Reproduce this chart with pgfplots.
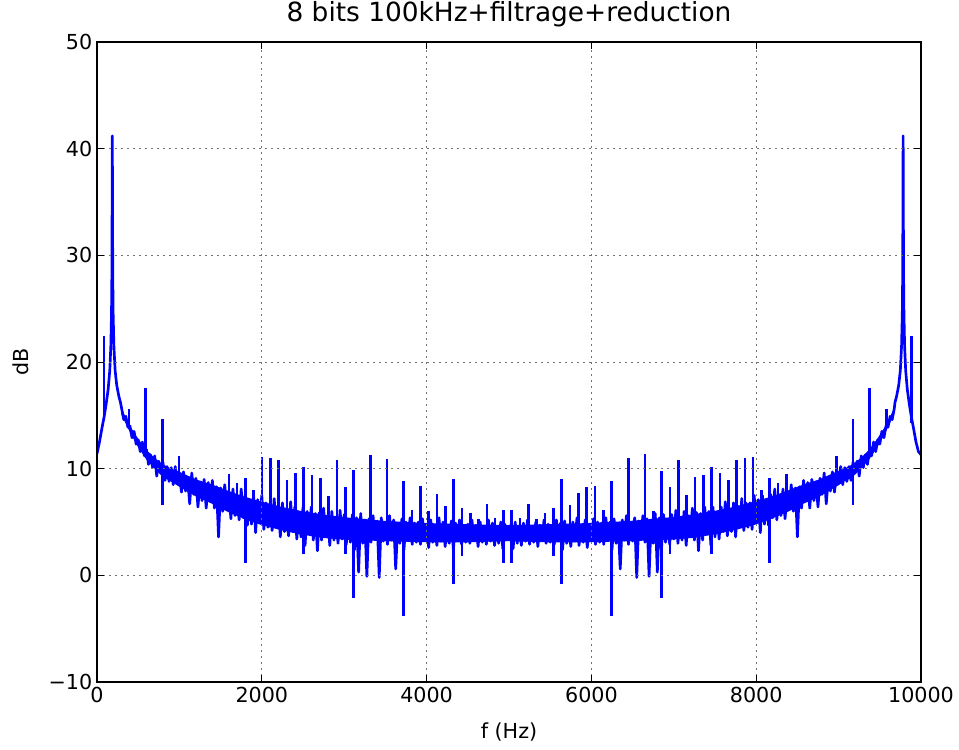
\documentclass[border=0pt]{standalone}
\usepackage{fontspec}
\setmainfont{DejaVu Sans}
\usepackage{pgfplots}
\pgfplotsset{compat=1.18}
\begin{document}
\begin{tikzpicture}
\useasboundingbox (-72.75pt,-50.25pt) rectangle (646.5pt,511.5pt);
\begin{axis}[
  at={(0pt,0pt)}, anchor=south west,
  scale only axis, width=618pt, height=480pt,
  xmin=0, xmax=10000, ymin=-10, ymax=50,
  scaled x ticks=false,
  xtick={0,2000,4000,6000,8000,10000},
  xticklabels={0,2000,4000,6000,8000,10000},
  ytick={-10,0,10,20,30,40,50},
  yticklabels={−10,0,10,20,30,40,50},
  tick align=inside,
  major tick length=5pt,
  every tick/.style={black, line width=0.6pt},
  grid=major,
  major grid style={black!55, line width=0.6pt, dash pattern=on 1.2pt off 3.3pt},
  axis line style={line width=1.2pt},
  axis on top,
  ticklabel style={font=\fontsize{15.5}{18}\selectfont},
  label style={font=\fontsize{15.5}{18}\selectfont},
  title style={font=\fontsize{19.8}{23}\selectfont, at={(axis description cs:0.5,1.031)}, anchor=center},
  xlabel={f (Hz)}, ylabel={dB},
  xlabel style={at={(axis description cs:0.5,-0.078)}, anchor=center},
  ylabel style={at={(axis description cs:-0.0922,0.5)}, anchor=center},
  title={8 bits 100kHz+filtrage+reduction},
]
% dense core of the noise band: upper envelope left to right, then lower envelope right to left
\addplot[fill=blue, draw=none] coordinates {
(300,15.6)(400,14.0)(500,12.8)(600,11.75)(700,11.0)(800,10.4)(900,10.0)(1000,9.7)(1200,9.0)(1400,8.5)(1600,7.9)(1800,7.35)(2000,6.9)(2250,6.4)(2500,6.0)(2750,5.7)(3000,5.45)(3500,5.1)(4000,4.9)(4500,4.8)(4985,4.7)
(5469,4.8)(5969,4.9)(6469,5.1)(6969,5.45)(7219,5.7)(7469,6.0)(7719,6.4)(7969,6.9)(8169,7.35)(8369,7.9)(8569,8.5)(8769,9.0)(8969,9.7)(9069,10.0)(9169,10.4)(9269,11.0)(9369,11.75)(9469,12.8)(9569,14.0)(9669,15.6)
(9669,15.0)(9569,13.4)(9469,12.0)(9369,10.85)(9269,10.0)(9169,9.2)(9069,8.8)(8969,8.3)(8769,7.4)(8569,6.7)(8369,5.9)(8169,5.25)(7969,4.7)(7719,4.2)(7469,3.8)(7219,3.5)(6969,3.35)(6469,3.2)(5969,3.1)(5469,3.1)
(4985,3.2)(4500,3.1)(4000,3.1)(3500,3.2)(3000,3.35)(2750,3.5)(2500,3.8)(2250,4.2)(2000,4.7)(1800,5.25)(1600,5.9)(1400,6.7)(1200,7.4)(1000,8.3)(900,8.8)(800,9.2)(700,10.0)(600,10.85)(500,12.0)(400,13.4)(300,15.0)
};
\addplot[blue, line width=2pt, line join=round] coordinates {
(0,11.4)(30,12.5)(60,13.8)(85,14.8)(110,16.0)(135,17.4)(155,19.2)(168,21.5)(176,24.5)(181,28.5)(186,41.2)(191,28.5)(196,24.5)(205,21.5)(220,19.2)(240,17.8)(265,16.8)(285,16.2)
(300,15.6)(325,14.6)(350,14.9)(375,13.9)(400,14.0)(425,12.9)(450,13.5)(475,12.3)(500,12.7)(525,11.6)(550,12.5)(575,11.2)(600,11.8)(625,10.4)(650,11.3)(675,10.1)(700,11.2)(725,9.3)(750,10.7)(775,9.6)(800,10.6)(825,8.9)(850,10.2)(875,8.8)(900,10.1)(925,8.5)(950,10.2)(975,8.6)
(1000,9.6)(1025,7.8)(1050,9.7)(1075,7.9)(1100,9.1)(1125,6.7)(1150,9.6)(1175,7.6)(1200,9.1)(1225,6.4)(1250,8.7)(1275,7.0)(1300,9.0)(1325,6.3)(1350,8.7)(1375,7.1)(1400,8.9)(1425,6.3)(1450,8.3)(1475,3.6)(1500,8.2)(1525,6.0)(1550,8.5)(1575,6.2)(1600,7.8)(1625,5.3)(1650,8.1)(1675,5.6)(1700,7.3)(1725,5.2)(1750,8.1)(1775,5.4)(1800,7.6)(1825,4.7)(1850,7.0)(1875,4.8)(1900,7.5)(1925,4.0)(1950,7.1)(1975,5.1)
(2000,7.5)(2025,4.3)(2050,6.8)(2075,4.5)(2100,6.8)(2125,4.2)(2150,7.2)(2175,4.6)(2200,6.5)(2225,3.6)(2250,6.8)(2275,4.1)(2300,6.0)(2325,3.7)(2350,6.9)(2375,4.1)(2400,6.4)(2425,3.4)(2450,5.9)(2475,3.6)(2500,6.4)(2525,2.8)(2550,6.0)(2575,4.1)(2600,6.4)(2625,3.3)(2650,5.8)(2675,2.3)(2700,5.9)(2725,3.3)(2750,6.3)(2775,3.7)(2800,5.6)(2825,2.8)(2850,6.0)(2875,3.3)(2900,5.2)(2925,3.0)(2950,6.1)(2975,3.4)
(3000,5.7)(3025,2.9)(3050,5.2)(3075,3.1)(3100,5.7)(3125,2.4)(3150,5.4)(3175,0.3)(3200,5.8)(3225,3.0)(3250,5.2)(3275,-0.1)(3300,5.3)(3325,3.1)(3350,5.6)(3375,3.4)(3400,5.1)(3425,-0.2)(3450,5.4)(3475,3.2)(3500,4.8)(3525,2.9)(3550,5.6)(3575,3.3)(3600,5.2)(3625,0.6)(3650,4.8)(3675,3.0)(3700,5.3)(3725,2.4)(3750,5.0)(3775,3.5)(3800,5.4)(3825,2.9)(3850,4.9)(3875,3.1)(3900,5.0)(3925,2.9)(3950,5.3)(3975,3.3)
(4000,4.8)(4025,2.6)(4050,5.2)(4075,3.1)(4100,4.6)(4125,2.8)(4150,5.4)(4175,3.2)(4200,5.0)(4225,2.7)(4250,4.7)(4275,3.0)(4300,5.1)(4325,2.4)(4350,4.9)(4375,3.4)(4400,5.2)(4425,2.9)(4450,4.7)(4475,3.1)(4500,4.8)(4525,3.0)(4550,5.2)(4575,3.3)(4600,4.7)(4625,2.7)(4650,5.0)(4675,3.1)(4700,4.5)(4725,2.9)(4750,5.2)(4775,3.2)(4800,4.9)(4825,2.8)(4850,4.6)(4875,3.0)(4900,5.0)(4925,2.5)(4950,4.8)(4975,3.5)
(5000,3.5)(5025,4.8)(5050,2.5)(5075,5.0)(5100,3.0)(5125,4.6)(5150,2.8)(5175,4.9)(5200,3.2)(5225,5.2)(5250,2.9)(5275,4.5)(5300,3.1)(5325,5.0)(5350,2.7)(5375,4.7)(5400,3.3)(5425,5.2)(5450,3.0)(5475,4.8)(5500,3.1)(5525,4.7)(5550,2.9)(5575,5.2)(5600,3.4)(5625,4.9)(5650,2.4)(5675,5.1)(5700,3.0)(5725,4.7)(5750,2.7)(5775,5.0)(5800,3.2)(5825,5.4)(5850,2.8)(5875,4.6)(5900,3.1)(5925,5.2)(5950,2.6)(5975,4.8)
(6000,3.3)(6025,5.3)(6050,2.9)(6075,5.0)(6100,3.1)(6125,4.9)(6150,2.9)(6175,5.4)(6200,3.5)(6225,5.0)(6250,2.4)(6275,5.3)(6300,3.0)(6325,4.8)(6350,0.6)(6375,5.2)(6400,3.3)(6425,5.6)(6450,2.9)(6475,4.8)(6500,3.2)(6525,5.4)(6550,-0.2)(6575,5.1)(6600,3.4)(6625,5.6)(6650,3.1)(6675,5.3)(6700,-0.1)(6725,5.2)(6750,3.0)(6775,5.8)(6800,0.3)(6825,5.4)(6850,2.4)(6875,5.7)(6900,3.1)(6925,5.2)(6950,2.9)(6975,5.7)
(7000,3.4)(7025,6.1)(7050,3.0)(7075,5.2)(7100,3.3)(7125,6.0)(7150,2.8)(7175,5.6)(7200,3.7)(7225,6.3)(7250,3.3)(7275,5.9)(7300,2.3)(7325,5.8)(7350,3.3)(7375,6.4)(7400,4.1)(7425,6.0)(7450,2.8)(7475,6.4)(7500,3.6)(7525,5.9)(7550,3.4)(7575,6.4)(7600,4.1)(7625,6.9)(7650,3.7)(7675,6.0)(7700,4.1)(7725,6.8)(7750,3.6)(7775,6.5)(7800,4.6)(7825,7.2)(7850,4.2)(7875,6.8)(7900,4.5)(7925,6.8)(7950,4.3)(7975,7.5)
(8000,5.1)(8025,7.1)(8050,4.0)(8075,7.5)(8100,4.8)(8125,7.0)(8150,4.7)(8175,7.6)(8200,5.4)(8225,8.1)(8250,5.2)(8275,7.3)(8300,5.6)(8325,8.1)(8350,5.3)(8375,7.8)(8400,6.2)(8425,8.5)(8450,6.0)(8475,8.2)(8500,3.6)(8525,8.3)(8550,6.3)(8575,8.9)(8600,7.1)(8625,8.7)(8650,6.3)(8675,9.0)(8700,7.0)(8725,8.7)(8750,6.4)(8775,9.1)(8800,7.6)(8825,9.6)(8850,6.7)(8875,9.1)(8900,7.9)(8925,9.7)(8950,7.8)(8975,9.6)
(9000,8.6)(9025,10.2)(9050,8.5)(9075,10.1)(9100,8.8)(9125,10.2)(9150,8.9)(9175,10.6)(9200,9.6)(9225,10.7)(9250,9.3)(9275,11.2)(9300,10.1)(9325,11.3)(9350,10.4)(9375,11.8)(9400,11.2)(9425,12.5)(9450,11.6)(9475,12.7)(9500,12.3)(9525,13.5)(9550,12.9)(9575,14.0)(9600,13.9)(9625,14.9)(9650,14.6)(9675,15.6)
(9684,16.2)(9704,16.8)(9729,17.8)(9749,19.2)(9764,21.5)(9773,24.5)(9778,28.5)(9783,41.2)(9788,28.5)(9793,24.5)(9801,21.5)(9814,19.2)(9834,17.4)(9859,16.0)(9884,14.8)(9909,13.8)(9939,12.5)(9969,11.6)(10000,11.3)
};
\addplot[blue, line width=2pt, unbounded coords=jump] coordinates {
(85,14.8)(85,22.4)(85,nan)(388,13.8)(388,15.6)(388,nan)(590,11.3)(590,17.6)(590,nan)(792,6.6)(792,14.7)(792,nan)(994,9.0)(994,11.2)(994,nan)
(1600,6.9)(1600,9.5)(1600,nan)(1701,6.6)(1701,8.7)(1701,nan)(1802,1.2)(1802,9.1)(1802,nan)(1903,6.0)(1903,8.0)(1903,nan)
(2004,5.8)(2004,11.1)(2004,nan)(2105,5.6)(2105,11.0)(2105,nan)(2206,5.4)(2206,10.8)(2206,nan)(2307,5.2)(2307,8.9)(2307,nan)(2408,5.1)(2408,9.6)(2408,nan)
(2509,2.0)(2509,10.2)(2509,nan)(2610,4.8)(2610,9.4)(2610,nan)(2711,4.7)(2711,9.1)(2711,nan)(2812,4.5)(2812,7.4)(2812,nan)(2913,4.5)(2913,10.8)(2913,nan)
(3014,2.0)(3014,8.3)(3014,nan)(3115,-2.1)(3115,9.9)(3115,nan)(3317,4.2)(3317,11.3)(3317,nan)(3519,4.1)(3519,10.9)(3519,nan)(3721,-3.8)(3721,8.8)(3721,nan)
(3822,4.0)(3822,6.1)(3822,nan)(3923,4.0)(3923,8.4)(3923,nan)(4024,4.0)(4024,6.0)(4024,nan)(4125,4.0)(4125,7.6)(4125,nan)(4226,4.0)(4226,6.5)(4226,nan)
(4327,-0.8)(4327,9.0)(4327,nan)(4428,1.8)(4428,6.3)(4428,nan)(4529,4.0)(4529,5.8)(4529,nan)(4630,4.0)(4630,5.3)(4630,nan)(4731,4.0)(4731,6.7)(4731,nan)
(4832,4.0)(4832,5.4)(4832,nan)(4933,1.2)(4933,6.1)(4933,nan)
(5034,1.2)(5034,6.1)(5034,nan)(5135,4.0)(5135,5.4)(5135,nan)(5236,4.0)(5236,6.7)(5236,nan)(5337,4.0)(5337,5.3)(5337,nan)(5438,4.0)(5438,5.8)(5438,nan)
(5539,1.8)(5539,6.3)(5539,nan)(5640,-0.8)(5640,9.0)(5640,nan)(5741,4.0)(5741,6.6)(5741,nan)(5842,4.0)(5842,7.7)(5842,nan)(5943,4.0)(5943,8.3)(5943,nan)
(6044,4.0)(6044,8.4)(6044,nan)(6145,4.0)(6145,6.1)(6145,nan)(6246,-3.8)(6246,8.8)(6246,nan)(6448,4.1)(6448,11.0)(6448,nan)(6650,4.2)(6650,11.4)(6650,nan)
(6751,4.3)(6751,6.0)(6751,nan)(6852,-2.1)(6852,9.8)(6852,nan)(6953,2.0)(6953,8.3)(6953,nan)(7054,4.5)(7054,10.8)(7054,nan)(7155,4.5)(7155,7.5)(7155,nan)
(7256,4.7)(7256,9.2)(7256,nan)(7357,4.8)(7357,9.4)(7357,nan)(7458,2.0)(7458,10.2)(7458,nan)(7559,5.1)(7559,9.6)(7559,nan)(7660,5.2)(7660,8.9)(7660,nan)
(7761,5.4)(7761,10.8)(7761,nan)(7862,5.6)(7862,11.0)(7862,nan)(7963,5.8)(7963,11.1)(7963,nan)(8064,6.0)(8064,8.0)(8064,nan)(8165,1.2)(8165,9.1)(8165,nan)
(8266,6.6)(8266,8.7)(8266,nan)(8367,6.9)(8367,9.5)(8367,nan)(8973,9.0)(8973,11.2)(8973,nan)(9175,6.6)(9175,14.7)(9175,nan)(9377,11.3)(9377,17.6)(9377,nan)
(9579,13.8)(9579,15.6)(9579,nan)(9882,14.3)(9882,22.4)
};
\end{axis}
\end{tikzpicture}
\end{document}
